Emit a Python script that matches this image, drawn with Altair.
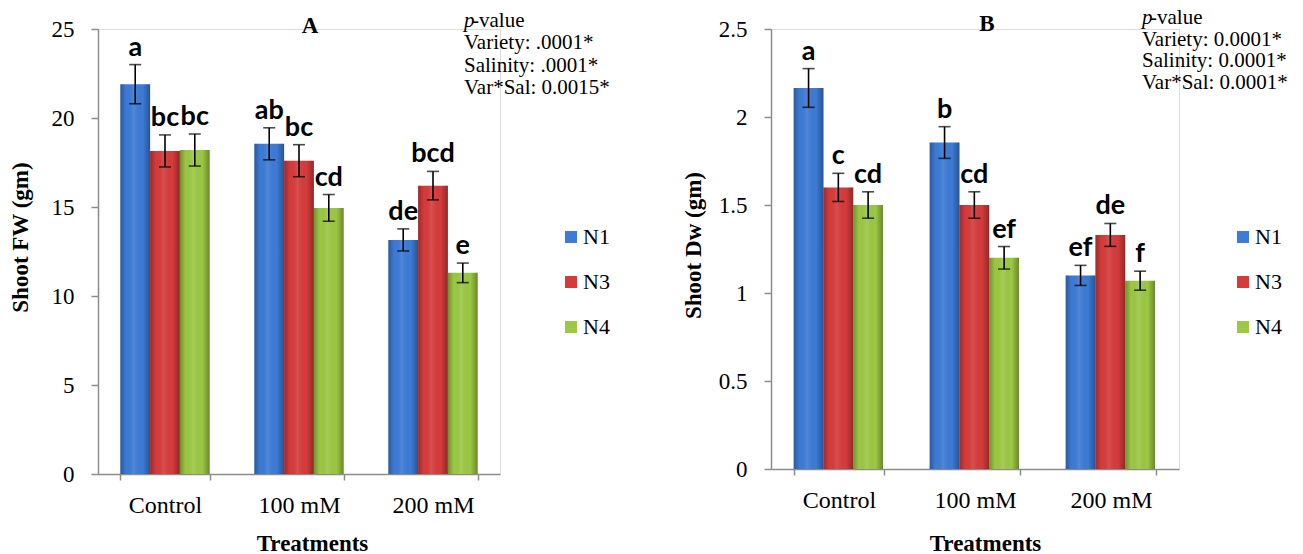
import altair as alt
import pandas as pd

treatments = ["Control", "100 mM", "200 mM"]
varieties = ["N1", "N3", "N4"]
colors = ["#3C7BD6", "#D63B3B", "#9CC843"]

# Panel A: shoot fresh weight (treatment-major, variety-minor)
fw_mean = [21.9, 18.15, 18.2, 18.55, 17.6, 14.95, 13.15, 16.2, 11.3]
fw_err = [1.1, 0.9, 0.9, 0.9, 0.9, 0.75, 0.62, 0.8, 0.55]
fw_letters = ["a", "bc", "bc", "ab", "bc", "cd", "de", "bcd", "e"]

# Panel B: shoot dry weight
dw_mean = [2.165, 1.60, 1.50, 1.855, 1.50, 1.20, 1.10, 1.33, 1.07]
dw_err = [0.11, 0.08, 0.075, 0.09, 0.075, 0.064, 0.057, 0.065, 0.054]
dw_letters = ["a", "c", "cd", "b", "cd", "ef", "ef", "de", "f"]

title_a = "A"
title_b = "B"
pval_head = "-value"
pval_a = "Variety: .0001*\nSalinity: .0001*\nVar*Sal: 0.0015*"
pval_b = "Variety: 0.0001*\nSalinity: 0.0001*\nVar*Sal: 0.0001*"

SERIF = "Liberation Serif"


def make_df(means, errs, letters):
    rows = []
    k = 0
    for t in treatments:
        for v in varieties:
            m, e = means[k], errs[k]
            rows.append(dict(Treatment=t, Variety=v, mean=m, lo=m - e, hi=m + e, letter=letters[k]))
            k += 1
    return pd.DataFrame(rows)


shade_grad = alt.LinearGradient(
    gradient="linear",
    stops=[
        alt.GradientStop(color="rgba(0,0,0,0.28)", offset=0),
        alt.GradientStop(color="rgba(0,0,0,0.0)", offset=0.2),
        alt.GradientStop(color="rgba(255,255,255,0.10)", offset=0.45),
        alt.GradientStop(color="rgba(0,0,0,0.0)", offset=0.75),
        alt.GradientStop(color="rgba(0,0,0,0.32)", offset=1),
    ],
    x1=0, x2=1, y1=0, y2=0,
)


def panel(df, width, height, domain_max, tick_vals, ytitle, ytitle_y, xtitle_y, title_txt, title_x, title_y,
          pval_txt, pval_x, pval_y, line_h, legend_x):
    yaxis = alt.Axis(
        values=tick_vals, format="~g", tickSize=7, labelPadding=17,
        labelFont=SERIF, labelFontSize=23, labelColor="black",
        domainColor="#8c8c8c", tickColor="#8c8c8c", domainWidth=1.5, tickWidth=1.5,
        grid=False, title=ytitle, titleFont=SERIF, titleFontSize=23, titleFontWeight="bold",
        titleColor="black", titleX=-78, titleY=ytitle_y, titleAngle=270, titleBaseline="middle",
        titleAlign="center",
    )
    yscale = alt.Scale(domain=[0, domain_max], nice=False, zero=True)
    xaxis = alt.Axis(
        tickBand="extent", tickSize=6, labelPadding=13, labelAngle=0,
        labelFont=SERIF, labelFontSize=24, labelColor="black",
        domainColor="#8c8c8c", tickColor="#8c8c8c", domainWidth=1.5, tickWidth=1.5,
        title="Treatments", titleFont=SERIF, titleFontSize=23, titleFontWeight="bold",
        titleColor="black", titleX=214, titleY=xtitle_y, titleBaseline="middle", titleAlign="center",
    )
    base = alt.Chart(df).encode(
        x=alt.X("Treatment:N", sort=treatments, axis=xaxis,
                scale=alt.Scale(paddingInner=1 / 3, paddingOuter=1 / 6)),
        xOffset=alt.XOffset("Variety:N", sort=varieties,
                            scale=alt.Scale(paddingInner=0, paddingOuter=0)),
    )
    bars = base.mark_bar().encode(
        y=alt.Y("mean:Q", scale=yscale, axis=yaxis),
        color=alt.Color(
            "Variety:N", scale=alt.Scale(domain=varieties, range=colors),
            legend=alt.Legend(
                orient="none", legendX=legend_x, legendY=197, title=None,
                symbolType="square", symbolSize=144, symbolStrokeWidth=0,
                labelFont=SERIF, labelFontSize=22, labelColor="black",
                rowPadding=23, labelOffset=1, padding=0,
            ),
        ),
    )
    shade = base.mark_bar(color=shade_grad).encode(y=alt.Y("mean:Q", scale=yscale, axis=yaxis))
    rule = base.mark_rule(color="black", strokeWidth=1.6).encode(
        y=alt.Y("lo:Q", scale=yscale, axis=yaxis), y2="hi:Q")
    cap_hi = base.mark_tick(color="black", orient="horizontal", size=12, thickness=1.6).encode(
        y=alt.Y("hi:Q", scale=yscale, axis=yaxis))
    cap_lo = base.mark_tick(color="black", orient="horizontal", size=12, thickness=1.6).encode(
        y=alt.Y("lo:Q", scale=yscale, axis=yaxis))
    letters = base.mark_text(font="Lato", fontWeight="bold", fontSize=27, color="black",
                             baseline="alphabetic", dy=-9).encode(
        y=alt.Y("hi:Q", scale=yscale, axis=yaxis), text="letter:N")

    ann = pd.DataFrame({"title": [title_txt], "p": ["p"], "head": [pval_head], "lines": [pval_txt]})
    ann_base = alt.Chart(ann)
    t_title = ann_base.mark_text(font=SERIF, fontSize=23, fontWeight="bold", color="black",
                                 baseline="middle", align="center").encode(
        x=alt.value(title_x), y=alt.value(title_y), text="title:N")
    t_p = ann_base.mark_text(font=SERIF, fontSize=21, fontStyle="italic", color="black",
                             baseline="alphabetic", align="left").encode(
        x=alt.value(pval_x), y=alt.value(pval_y), text="p:N")
    t_head = ann_base.mark_text(font=SERIF, fontSize=21, color="black",
                                baseline="alphabetic", align="left").encode(
        x=alt.value(pval_x + 8), y=alt.value(pval_y), text="head:N")
    t_lines = ann_base.mark_text(font=SERIF, fontSize=21, color="black", lineBreak="\n",
                                 lineHeight=line_h, baseline="alphabetic", align="left").encode(
        x=alt.value(pval_x), y=alt.value(pval_y + line_h), text="lines:N")

    return alt.layer(bars, shade, rule, cap_hi, cap_lo, letters, t_title, t_p, t_head, t_lines).properties(
        width=width, height=height)


chart_a = panel(make_df(fw_mean, fw_err, fw_letters), 402, 445, 25, [0, 5, 10, 15, 20, 25],
                "Shoot FW (gm)", 208, 69, title_a, 212, -3, pval_a, 366, -2, 22.4, 462)
chart_b = panel(make_df(dw_mean, dw_err, dw_letters), 408, 440, 2.5, [0, 0.5, 1, 1.5, 2, 2.5],
                "Shoot Dw (gm)", 216, 74, title_b, 216, -5, pval_b, 371, -5, 21.5, 461)

chart = alt.hconcat(chart_a, chart_b, spacing=271, bounds="flush",
                    padding={"left": 8, "top": 6, "right": 0, "bottom": 0}).resolve_scale(
    color="independent").resolve_legend(color="independent").configure_view(
    stroke=None).configure(background="white")

chart.save("out.html", embed_options={"renderer": "svg", "actions": False})
